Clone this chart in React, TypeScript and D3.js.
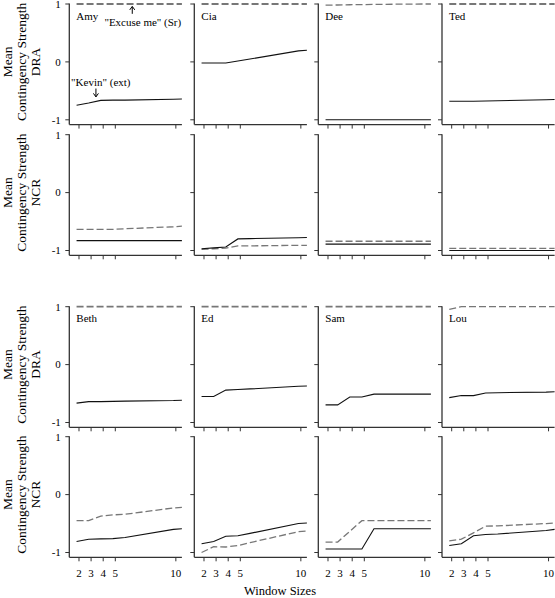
import React from "react";
import * as d3 from "d3";

// ---------- DATA ----------
const windowX = [1.8, 2.8, 3.8, 4.8, 5.8, 9.8, 10.5];
const xTicks = [2, 3, 4, 5, 10];
const yTicks = [1, 0, -1];
const topNames = ["Amy", "Cia", "Dee", "Ted"];
const bottomNames = ["Beth", "Ed", "Sam", "Lou"];
const conditions = ["DRA", "NCR"];

// solid = "Kevin" (ext), dashed = "Excuse me" (Sr)
const amyDRAExt = [-0.75, -0.71, -0.665, -0.66, -0.66, -0.645, -0.64];
const amyDRASr = [1, 1, 1, 1, 1, 1, 1];
const ciaDRAExt = [-0.02, -0.02, -0.02, 0.015, 0.05, 0.19, 0.2];
const ciaDRASr = [1, 1, 1, 1, 1, 1, 1];
const deeDRAExt = [-1, -1, -1, -1, -1, -1, -1];
const deeDRASr = [0.98, 0.983, 0.987, 0.99, 0.993, 1, 1];
const tedDRAExt = [-0.68, -0.68, -0.68, -0.675, -0.67, -0.655, -0.65];
const tedDRASr = [1, 1, 1, 1, 1, 1, 1];

const amyNCRExt = [-0.83, -0.83, -0.83, -0.83, -0.83, -0.83, -0.83];
const amyNCRSr = [-0.635, -0.635, -0.635, -0.635, -0.625, -0.59, -0.58];
const ciaNCRExt = [-0.97, -0.955, -0.94, -0.8, -0.795, -0.78, -0.775];
const ciaNCRSr = [-0.98, -0.97, -0.96, -0.92, -0.92, -0.91, -0.91];
const deeNCRExt = [-0.89, -0.89, -0.89, -0.89, -0.89, -0.89, -0.89];
const deeNCRSr = [-0.84, -0.84, -0.84, -0.84, -0.84, -0.84, -0.84];
const tedNCRExt = [-1, -1, -1, -1, -1, -1, -1];
const tedNCRSr = [-0.965, -0.965, -0.965, -0.965, -0.965, -0.965, -0.965];

const bethDRAExt = [-0.665, -0.64, -0.64, -0.635, -0.63, -0.62, -0.615];
const bethDRASr = [1, 1, 1, 1, 1, 1, 1];
const edDRAExt = [-0.55, -0.55, -0.44, -0.43, -0.42, -0.375, -0.37];
const edDRASr = [1, 1, 1, 1, 1, 1, 1];
const samDRAExt = [-0.695, -0.695, -0.56, -0.56, -0.51, -0.51, -0.51];
const samDRASr = [1, 1, 1, 1, 1, 1, 1];
const louDRAExt = [-0.57, -0.535, -0.535, -0.49, -0.485, -0.475, -0.47];
const louDRASr = [0.955, 1, 1, 1, 1, 1, 1];

const bethNCRExt = [-0.81, -0.77, -0.765, -0.76, -0.74, -0.6, -0.59];
const bethNCRSr = [-0.45, -0.45, -0.37, -0.35, -0.34, -0.23, -0.22];
const edNCRExt = [-0.85, -0.81, -0.72, -0.71, -0.67, -0.5, -0.49];
const edNCRSr = [-1.0, -0.9, -0.905, -0.88, -0.83, -0.64, -0.63];
const samNCRExt = [-0.94, -0.94, -0.94, -0.94, -0.59, -0.59, -0.59];
const samNCRSr = [-0.82, -0.82, -0.635, -0.45, -0.45, -0.45, -0.45];
const louNCRExt = [-0.88, -0.85, -0.71, -0.69, -0.68, -0.62, -0.6];
const louNCRSr = [-0.8, -0.77, -0.66, -0.545, -0.54, -0.5, -0.49];

const extRows = [
  [amyDRAExt, ciaDRAExt, deeDRAExt, tedDRAExt],
  [amyNCRExt, ciaNCRExt, deeNCRExt, tedNCRExt],
  [bethDRAExt, edDRAExt, samDRAExt, louDRAExt],
  [bethNCRExt, edNCRExt, samNCRExt, louNCRExt],
];
const srRows = [
  [amyDRASr, ciaDRASr, deeDRASr, tedDRASr],
  [amyNCRSr, ciaNCRSr, deeNCRSr, tedNCRSr],
  [bethDRASr, edDRASr, samDRASr, louDRASr],
  [bethNCRSr, edNCRSr, samNCRSr, louNCRSr],
];

// ---------- LAYOUT ----------
const W = 555;
const H = 598;
const FONT = "'Liberation Serif', 'Times New Roman', serif";
const colLeft = [69.3, 194.3, 318.3, 442];
const panelW = 112.6;
const rowTop = [4, 134.7, 306.7, 436.7];
const plotH = 115.8;
const axisGap = 4.8;

export default function App() {
  const line = d3.line<[number, number]>();
  const panels: React.ReactNode[] = [];

  for (let r = 0; r < 4; r++) {
    const y = d3.scaleLinear().domain([-1, 1]).range([rowTop[r] + plotH, rowTop[r]]);
    const axisY = rowTop[r] + plotH + axisGap;
    const names = r < 2 ? topNames : bottomNames;
    const cond = conditions[r % 2];

    // row label
    const cy = y(0);
    panels.push(
      <g key={`lab${r}`} fontFamily={FONT} fontSize={13.5} fill="#000" textAnchor="middle">
        {["Mean", "Contingency Strength", cond].map((t, i) => (
          <text
            key={i}
            transform={`translate(${[7.6, 21.2, 35.4][i]},${cy}) rotate(-90)`}
            dy="0.35em"
          >
            {t}
          </text>
        ))}
      </g>
    );

    for (let c = 0; c < 4; c++) {
      const x = d3.scaleLinear().domain([1.2, 10.5]).range([colLeft[c], colLeft[c] + panelW]);
      const ext = extRows[r][c];
      const sr = srRows[r][c];
      const extPts = windowX.map((w, i) => [x(w), y(ext[i])] as [number, number]);
      const srPts = windowX.map((w, i) => [x(w), y(sr[i])] as [number, number]);
      const left = colLeft[c];

      panels.push(
        <g key={`p${r}-${c}`}>
          {/* axes */}
          <line x1={left} x2={left} y1={y(1) - 0.5} y2={axisY} stroke="#333" strokeWidth={1.3} />
          <line x1={left} x2={left + panelW} y1={axisY} y2={axisY} stroke="#333" strokeWidth={1.3} />
          {yTicks.map((t) => (
            <line key={`yt${t}`} x1={left - 4} x2={left} y1={y(t)} y2={y(t)} stroke="#333" strokeWidth={1} />
          ))}
          {xTicks.map((t) => (
            <line key={`xt${t}`} x1={x(t)} x2={x(t)} y1={axisY} y2={axisY + 4} stroke="#333" strokeWidth={1} />
          ))}
          {c === 0 &&
            yTicks.map((t) => (
              <text
                key={`yl${t}`}
                x={left - 8.5}
                y={y(t)}
                dy="0.35em"
                textAnchor="end"
                fontFamily={FONT}
                fontSize={11}
              >
                {t}
              </text>
            ))}
          {r === 3 &&
            xTicks.map((t) => (
              <text
                key={`xl${t}`}
                x={x(t)}
                y={axisY + 20}
                textAnchor="middle"
                fontFamily={FONT}
                fontSize={11}
              >
                {t}
              </text>
            ))}
          {(r === 0 || r === 2) && (
            <text x={left + 7} y={rowTop[r] + 15.5} fontFamily={FONT} fontSize={11}>
              {names[c]}
            </text>
          )}
          {/* series */}
          <path
            d={line(srPts) || ""}
            fill="none"
            stroke="#777"
            strokeWidth={sr.every((v) => v === 1) ? 1.8 : 1.3}
            strokeDasharray="7,3"
          />
          <path d={line(extPts) || ""} fill="none" stroke="#111" strokeWidth={1.1} />
          {/* annotations */}
          {r === 0 && c === 0 && (
            <g fontFamily={FONT} fontSize={11} fill="#000">
              <text x={x(4.1)} y={y(0.62)}>"Excuse me" (Sr)</text>
              <line x1={x(6.4)} x2={x(6.4)} y1={y(0.985) + 2} y2={y(0.83)} stroke="#000" strokeWidth={1} />
              <path
                d={`M${x(6.4) - 2.5},${y(0.985) + 5}L${x(6.4)},${y(0.985) + 1.5}L${x(6.4) + 2.5},${y(0.985) + 5}`}
                fill="none"
                stroke="#000"
                strokeWidth={1}
              />
              <text x={x(1.35)} y={y(-0.41)}>"Kevin" (ext)</text>
              <line x1={x(3.4)} x2={x(3.4)} y1={y(-0.46)} y2={y(-0.63) - 1.5} stroke="#000" strokeWidth={1} />
              <path
                d={`M${x(3.4) - 2.5},${y(-0.63) - 5}L${x(3.4)},${y(-0.63) - 1.5}L${x(3.4) + 2.5},${y(-0.63) - 5}`}
                fill="none"
                stroke="#000"
                strokeWidth={1}
              />
            </g>
          )}
        </g>
      );
    }
  }

  return (
    <svg
      width={W}
      height={H}
      style={{ position: "absolute", left: 0, top: 0, background: "#fff" }}
    >
      <rect width={W} height={H} fill="#fff" />
      {panels}
      <text x={280} y={595} textAnchor="middle" fontFamily={FONT} fontSize={12.5}>
        Window Sizes
      </text>
    </svg>
  );
}
